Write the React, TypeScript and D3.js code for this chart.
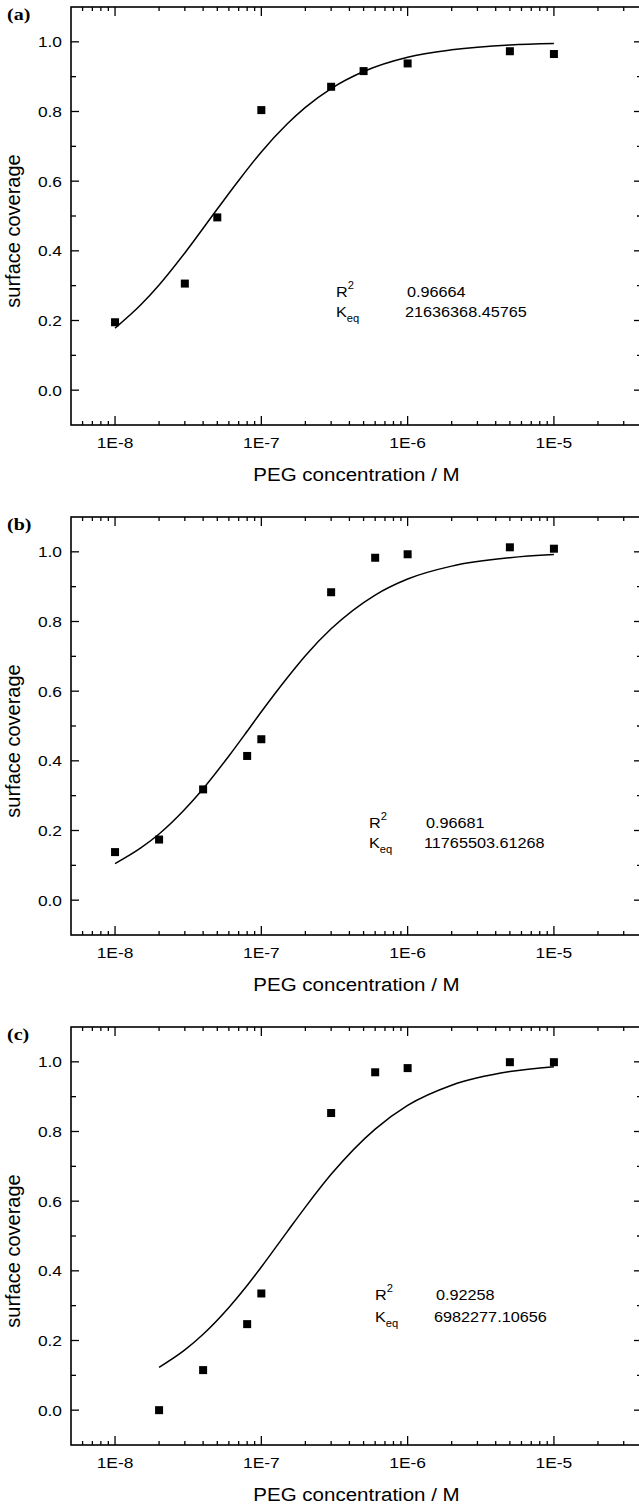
import React from "react";
import * as d3 from "d3";

// ---------- data ----------
const panelLabels = ["(a)", "(b)", "(c)"];
const xTickValues = [1e-8, 1e-7, 1e-6, 1e-5];
const xTickLabels = ["1E-8", "1E-7", "1E-6", "1E-5"];
const yTickValues = [0, 0.2, 0.4, 0.6, 0.8, 1.0];
const yTickLabels = ["0.0", "0.2", "0.4", "0.6", "0.8", "1.0"];
const xTitle = "PEG concentration / M";
const yTitle = "surface coverage";

// panel (a)
const concA = [1e-8, 3e-8, 5e-8, 1e-7, 3e-7, 5e-7, 1e-6, 5e-6, 1e-5];
const covA = [0.195, 0.306, 0.496, 0.804, 0.871, 0.916, 0.938, 0.973, 0.965];
const fitXA = [1e-8, 1.5e-8, 2e-8, 3e-8, 5e-8, 7e-8, 1e-7, 1.5e-7, 2e-7, 3e-7, 5e-7, 1e-6, 2e-6, 5e-6, 1e-5];
const fitYA = [0.178, 0.245, 0.302, 0.394, 0.52, 0.602, 0.684, 0.764, 0.812, 0.866, 0.915, 0.956, 0.977, 0.991, 0.995];
const r2A = "0.96664";
const keqA = "21636368.45765";

// panel (b)
const concB = [1e-8, 2e-8, 4e-8, 8e-8, 1e-7, 3e-7, 6e-7, 1e-6, 5e-6, 1e-5];
const covB = [0.138, 0.174, 0.318, 0.414, 0.462, 0.884, 0.983, 0.993, 1.013, 1.009];
const fitXB = [1e-8, 1.5e-8, 2e-8, 3e-8, 4e-8, 6e-8, 8e-8, 1e-7, 1.5e-7, 2e-7, 3e-7, 6e-7, 1e-6, 2e-6, 5e-6, 1e-5];
const fitYB = [0.105, 0.15, 0.19, 0.261, 0.32, 0.414, 0.485, 0.541, 0.638, 0.702, 0.779, 0.876, 0.922, 0.959, 0.983, 0.992];
const r2B = "0.96681";
const keqB = "11765503.61268";

// panel (c)
const concC = [2e-8, 4e-8, 8e-8, 1e-7, 3e-7, 6e-7, 1e-6, 5e-6, 1e-5];
const covC = [0.0, 0.115, 0.247, 0.335, 0.853, 0.97, 0.982, 0.999, 0.999];
const fitXC = [2e-8, 3e-8, 4e-8, 6e-8, 8e-8, 1e-7, 1.5e-7, 2e-7, 3e-7, 6e-7, 1e-6, 2e-6, 5e-6, 1e-5];
const fitYC = [0.123, 0.173, 0.218, 0.295, 0.358, 0.411, 0.512, 0.583, 0.677, 0.807, 0.875, 0.933, 0.972, 0.986];
const r2C = "0.92258";
const keqC = "6982277.10656";

// ---------- layout ----------
const W = 639;
const H = 1508;
const LEFT = 71;
const RIGHT = 642;
const PH = 418;
const FONT = "'Liberation Sans', Arial, Helvetica, sans-serif";
const SERIF = "'Liberation Serif', 'Times New Roman', serif";
const SX = 1.12;

const panels = [
  { top: 7, conc: concA, cov: covA, fx: fitXA, fy: fitYA, r2: r2A, keq: keqA, rx: 336, vx: 405, ry: 290, ky: 310 },
  { top: 517, conc: concB, cov: covB, fx: fitXB, fy: fitYB, r2: r2B, keq: keqB, rx: 369, vx: 424, ry: 311, ky: 331 },
  { top: 1027, conc: concC, cov: covC, fx: fitXC, fy: fitYC, r2: r2C, keq: keqC, rx: 375, vx: 434, ry: 273, ky: 295 },
];

const x = d3.scaleLog().domain([5e-9, 4e-5]).range([LEFT, RIGHT]);

function minorXTicks(): number[] {
  const out: number[] = [];
  const [d0, d1] = x.domain();
  for (let e = -9; e <= -5; e++) {
    for (let k = 1; k <= 9; k++) {
      const v = k * Math.pow(10, e);
      if (v > d0 * 1.0001 && v < d1 * 0.9999) out.push(v);
    }
  }
  return out;
}
const xMinor = minorXTicks();
const yMinor = [0.1, 0.3, 0.5, 0.7, 0.9];

function STxt(props: any) {
  const { x: tx, y: ty, sx = SX, children, ...rest } = props;
  return (
    <text transform={`translate(${tx},${ty}) scale(${sx},1)`} {...rest}>
      {children}
    </text>
  );
}

function Panel({ p, label }: { p: any; label: string }) {
  const top = p.top;
  const bottom = top + PH;
  const y = d3.scaleLinear().domain([-0.1, 1.1]).range([bottom, top]);
  const line = d3
    .line<number>()
    .x((_, i) => x(p.fx[i]))
    .y((d) => y(d))
    .curve(d3.curveMonotoneX);
  const sw = 1.6;
  return (
    <g>
      {/* frame */}
      <rect x={LEFT} y={top} width={RIGHT - LEFT} height={PH} fill="none" stroke="#000" strokeWidth={sw} />
      {/* x ticks bottom & top */}
      {xMinor.map((v, i) => {
        const major = xTickValues.some((m) => Math.abs(m - v) / m < 1e-6);
        const len = major ? 9 : 4;
        const xx = x(v);
        return (
          <g key={"xt" + i}>
            <line x1={xx} x2={xx} y1={bottom} y2={bottom - len} stroke="#000" strokeWidth={1.3} />
            <line x1={xx} x2={xx} y1={top} y2={top + len} stroke="#000" strokeWidth={1.3} />
          </g>
        );
      })}
      {/* y ticks */}
      {yTickValues.map((v, i) => (
        <g key={"ytM" + i}>
          <line x1={LEFT} x2={LEFT + 8} y1={y(v)} y2={y(v)} stroke="#000" strokeWidth={1.3} />
          <line x1={RIGHT} x2={RIGHT - 8} y1={y(v)} y2={y(v)} stroke="#000" strokeWidth={1.3} />
        </g>
      ))}
      {yMinor.map((v, i) => (
        <g key={"ytm" + i}>
          <line x1={LEFT} x2={LEFT + 5} y1={y(v)} y2={y(v)} stroke="#000" strokeWidth={1.3} />
          <line x1={RIGHT} x2={RIGHT - 5} y1={y(v)} y2={y(v)} stroke="#000" strokeWidth={1.3} />
        </g>
      ))}
      {/* y tick labels */}
      {yTickValues.map((v, i) => (
        <STxt key={"yl" + i} x={62} y={y(v) + 5.5} textAnchor="end" fontFamily={FONT} fontSize={15.5}>
          {yTickLabels[i]}
        </STxt>
      ))}
      {/* x tick labels */}
      {xTickValues.map((v, i) => (
        <STxt key={"xl" + i} x={x(v)} y={bottom + 23} textAnchor="middle" fontFamily={FONT} fontSize={15.5}>
          {xTickLabels[i]}
        </STxt>
      ))}
      {/* titles */}
      <STxt x={(LEFT + RIGHT) / 2} y={bottom + 56} textAnchor="middle" fontFamily={FONT} fontSize={19} sx={1.08}>
        {xTitle}
      </STxt>
      <text
        transform={`translate(20,${top + 224}) rotate(-90)`}
        textAnchor="middle"
        fontFamily={FONT}
        fontSize={20}
      >
        {yTitle}
      </text>
      {/* panel label */}
      <STxt x={7} y={top + 13} fontFamily={SERIF} fontWeight="bold" fontSize={16} sx={1.25}>
        {label}
      </STxt>
      {/* fit curve */}
      <path d={line(p.fy) || ""} fill="none" stroke="#000" strokeWidth={1.5} />
      {/* data points */}
      {p.conc.map((c: number, i: number) => (
        <rect key={"pt" + i} x={x(c) - 4} y={y(p.cov[i]) - 4} width={8} height={8} fill="#000" />
      ))}
      {/* annotation */}
      <STxt x={p.rx} y={top + p.ry} fontFamily={FONT} fontSize={14.5}>
        <tspan>R</tspan>
        <tspan dy={-8} fontSize={10}>2</tspan>
      </STxt>
      <STxt x={p.vx + 2} y={top + p.ry} fontFamily={FONT} fontSize={14.5}>
        {p.r2}
      </STxt>
      <STxt x={p.rx} y={top + p.ky} fontFamily={FONT} fontSize={14.5}>
        <tspan>K</tspan>
        <tspan dy={5} fontSize={10}>eq</tspan>
      </STxt>
      <STxt x={p.vx} y={top + p.ky} fontFamily={FONT} fontSize={14.5}>
        {p.keq}
      </STxt>
    </g>
  );
}

export default function App() {
  return (
    <svg
      width={W}
      height={H}
      viewBox={`0 0 ${W} ${H}`}
      style={{ position: "absolute", left: 0, top: 0, background: "#fff" }}
    >
      <rect x={0} y={0} width={W} height={H} fill="#fff" />
      {panels.map((p, i) => (
        <Panel key={i} p={p} label={panelLabels[i]} />
      ))}
    </svg>
  );
}
